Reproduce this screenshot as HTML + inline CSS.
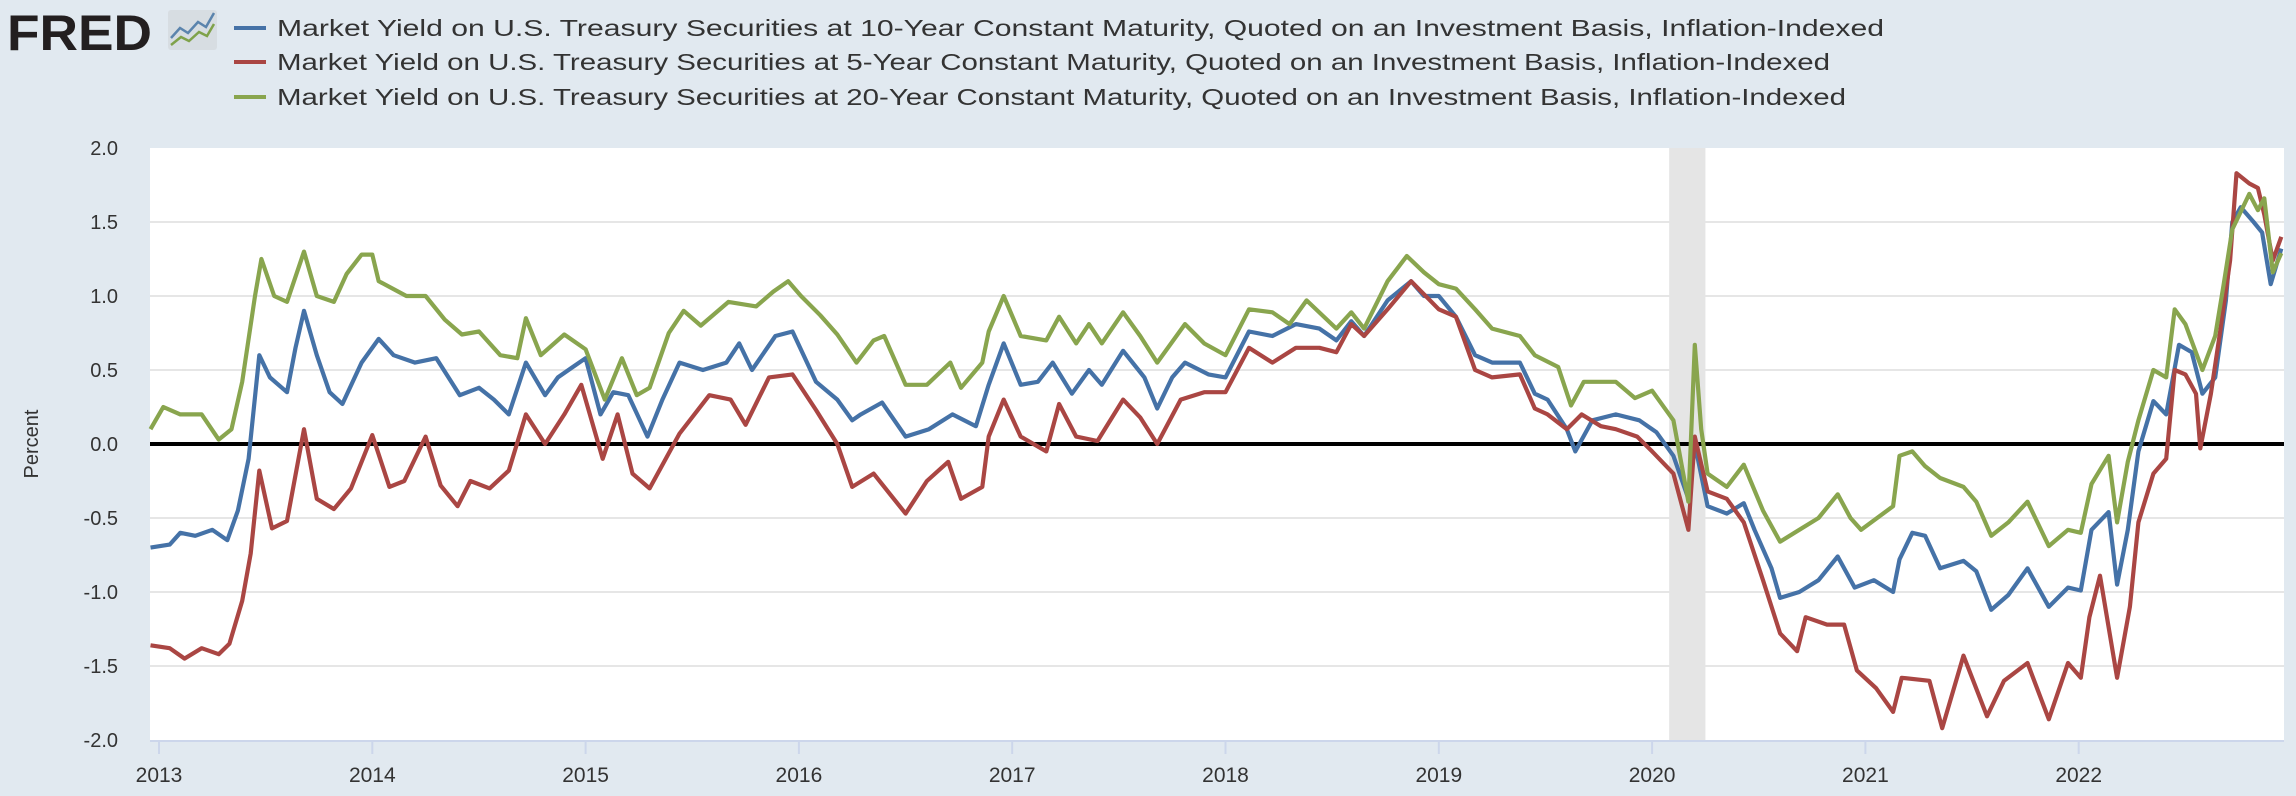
<!DOCTYPE html>
<html><head><meta charset="utf-8"><style>
html,body{margin:0;padding:0;background:#e1e9f0;}
svg{display:block;font-family:"Liberation Sans",sans-serif;}
</style></head><body>
<svg id="chart" width="2296" height="796" viewBox="0 0 2296 796">
<rect x="0" y="0" width="2296" height="796" fill="#e1e9f0"/>
<g>
<text x="7" y="50" font-size="50" font-weight="bold" fill="#231f20" textLength="145" lengthAdjust="spacingAndGlyphs">FRED</text>
<rect x="168" y="10" width="49" height="40" rx="3" fill="#d7dde2"/>
<polyline points="171,38 180,28 188,33 198,22 206,27 214,13" fill="none" stroke="#5b84ad" stroke-width="2.5"/>
<polyline points="171,45 181,37 189,41 199,32 207,36 214,24" fill="none" stroke="#7fa24a" stroke-width="2.5"/>
</g>
<g>
<g>
<line x1="234" y1="28" x2="266" y2="28" stroke="#4572a7" stroke-width="4"/>
<text x="277" y="36" font-size="23" fill="#333" textLength="1607" lengthAdjust="spacingAndGlyphs">Market Yield on U.S. Treasury Securities at 10-Year Constant Maturity, Quoted on an Investment Basis, Inflation-Indexed</text></g>
<g>
<line x1="234" y1="62" x2="266" y2="62" stroke="#aa4643" stroke-width="4"/>
<text x="277" y="70" font-size="23" fill="#333" textLength="1553" lengthAdjust="spacingAndGlyphs">Market Yield on U.S. Treasury Securities at 5-Year Constant Maturity, Quoted on an Investment Basis, Inflation-Indexed</text></g>
<g>
<line x1="234" y1="97" x2="266" y2="97" stroke="#89a54e" stroke-width="4"/>
<text x="277" y="105" font-size="23" fill="#333" textLength="1569" lengthAdjust="spacingAndGlyphs">Market Yield on U.S. Treasury Securities at 20-Year Constant Maturity, Quoted on an Investment Basis, Inflation-Indexed</text></g>
</g>
<rect x="150" y="148" width="2134" height="592" fill="#ffffff"/>
<text transform="translate(38,444) rotate(-90)" text-anchor="middle" font-size="20" fill="#333">Percent</text>
<g id="grid"></g><g id="rec"></g><g id="yl"></g><g id="xl"></g><g id="zero"></g><g id="series"></g>
</svg>
<script>
const yTicks=[-2.0,-1.5,-1.0,-0.5,0.0,0.5,1.0,1.5,2.0];
const xYears=[2013,2014,2015,2016,2017,2018,2019,2020,2021,2022];
const recession=[2020.08,2020.25];
const blueT=[2012.96,2013.05,2013.1,2013.17,2013.25,2013.32,2013.37,2013.42,2013.47,2013.52,2013.6,2013.64,2013.68,2013.74,2013.8,2013.86,2013.95,2014.03,2014.1,2014.2,2014.3,2014.41,2014.5,2014.57,2014.64,2014.72,2014.81,2014.87,2014.94,2015.0,2015.07,2015.13,2015.2,2015.29,2015.36,2015.44,2015.55,2015.66,2015.72,2015.78,2015.89,2015.97,2016.08,2016.18,2016.25,2016.29,2016.39,2016.5,2016.61,2016.72,2016.83,2016.89,2016.96,2017.04,2017.12,2017.19,2017.28,2017.36,2017.42,2017.52,2017.62,2017.68,2017.75,2017.81,2017.92,2018.0,2018.11,2018.22,2018.33,2018.44,2018.52,2018.59,2018.65,2018.76,2018.87,2018.93,2019.0,2019.08,2019.17,2019.25,2019.38,2019.45,2019.51,2019.6,2019.64,2019.72,2019.83,2019.94,2020.02,2020.1,2020.17,2020.2,2020.26,2020.35,2020.43,2020.48,2020.56,2020.6,2020.69,2020.78,2020.87,2020.95,2021.04,2021.13,2021.16,2021.22,2021.28,2021.35,2021.46,2021.52,2021.59,2021.67,2021.76,2021.86,2021.95,2022.01,2022.06,2022.14,2022.18,2022.23,2022.28,2022.35,2022.41,2022.47,2022.53,2022.58,2022.64,2022.69,2022.72,2022.76,2022.82,2022.86,2022.9,2022.95];
const blueV=[-0.7,-0.68,-0.6,-0.62,-0.58,-0.65,-0.45,-0.1,0.6,0.45,0.35,0.65,0.9,0.6,0.35,0.27,0.55,0.71,0.6,0.55,0.58,0.33,0.38,0.3,0.2,0.55,0.33,0.45,0.52,0.58,0.2,0.35,0.33,0.05,0.3,0.55,0.5,0.55,0.68,0.5,0.73,0.76,0.42,0.3,0.16,0.2,0.28,0.05,0.1,0.2,0.12,0.4,0.68,0.4,0.42,0.55,0.34,0.5,0.4,0.63,0.45,0.24,0.45,0.55,0.47,0.45,0.76,0.73,0.81,0.78,0.7,0.83,0.73,0.97,1.1,1.0,1.0,0.86,0.6,0.55,0.55,0.34,0.3,0.1,-0.05,0.16,0.2,0.16,0.08,-0.08,-0.37,0,-0.42,-0.47,-0.4,-0.58,-0.84,-1.04,-1.0,-0.92,-0.76,-0.97,-0.92,-1.0,-0.78,-0.6,-0.62,-0.84,-0.79,-0.86,-1.12,-1.02,-0.84,-1.1,-0.97,-0.99,-0.58,-0.46,-0.95,-0.58,-0.05,0.29,0.2,0.67,0.62,0.34,0.45,0.97,1.5,1.6,1.5,1.43,1.08,1.32];
const redT=[2012.96,2013.05,2013.12,2013.2,2013.28,2013.33,2013.39,2013.43,2013.47,2013.53,2013.6,2013.68,2013.74,2013.82,2013.9,2014.0,2014.08,2014.15,2014.25,2014.32,2014.4,2014.46,2014.55,2014.64,2014.72,2014.81,2014.9,2014.98,2015.08,2015.15,2015.22,2015.3,2015.44,2015.58,2015.68,2015.75,2015.86,2015.97,2016.08,2016.18,2016.25,2016.35,2016.5,2016.6,2016.7,2016.76,2016.86,2016.89,2016.96,2017.04,2017.16,2017.22,2017.3,2017.4,2017.52,2017.6,2017.68,2017.79,2017.9,2018.0,2018.11,2018.22,2018.33,2018.44,2018.52,2018.59,2018.65,2018.76,2018.87,2019.0,2019.08,2019.17,2019.25,2019.38,2019.45,2019.51,2019.6,2019.67,2019.76,2019.83,2019.93,2020.0,2020.1,2020.17,2020.2,2020.26,2020.35,2020.43,2020.52,2020.6,2020.68,2020.72,2020.82,2020.9,2020.96,2021.05,2021.13,2021.17,2021.3,2021.36,2021.46,2021.57,2021.65,2021.76,2021.86,2021.95,2022.01,2022.05,2022.1,2022.18,2022.24,2022.28,2022.35,2022.41,2022.45,2022.5,2022.55,2022.57,2022.62,2022.66,2022.71,2022.74,2022.8,2022.84,2022.87,2022.91,2022.95];
const redV=[-1.36,-1.38,-1.45,-1.38,-1.42,-1.35,-1.06,-0.74,-0.18,-0.57,-0.52,0.1,-0.37,-0.44,-0.3,0.06,-0.29,-0.25,0.05,-0.28,-0.42,-0.25,-0.3,-0.18,0.2,0.0,0.2,0.4,-0.1,0.2,-0.2,-0.3,0.07,0.33,0.3,0.13,0.45,0.47,0.23,0.0,-0.29,-0.2,-0.47,-0.25,-0.12,-0.37,-0.29,0.05,0.3,0.05,-0.05,0.27,0.05,0.02,0.3,0.18,0.0,0.3,0.35,0.35,0.65,0.55,0.65,0.65,0.62,0.81,0.73,0.91,1.1,0.91,0.86,0.5,0.45,0.47,0.24,0.2,0.1,0.2,0.12,0.1,0.05,-0.05,-0.2,-0.58,0.05,-0.32,-0.37,-0.53,-0.92,-1.28,-1.4,-1.17,-1.22,-1.22,-1.53,-1.65,-1.81,-1.58,-1.6,-1.92,-1.43,-1.84,-1.6,-1.48,-1.86,-1.48,-1.58,-1.17,-0.89,-1.58,-1.1,-0.53,-0.2,-0.1,0.5,0.47,0.34,-0.03,0.34,0.73,1.24,1.83,1.76,1.73,1.55,1.24,1.4];
const greenT=[2012.96,2013.02,2013.1,2013.2,2013.28,2013.34,2013.39,2013.45,2013.48,2013.54,2013.6,2013.68,2013.74,2013.82,2013.88,2013.95,2014.0,2014.03,2014.16,2014.25,2014.34,2014.42,2014.5,2014.6,2014.68,2014.72,2014.79,2014.9,2015.0,2015.09,2015.17,2015.24,2015.3,2015.39,2015.46,2015.54,2015.67,2015.8,2015.88,2015.95,2016.01,2016.1,2016.18,2016.27,2016.35,2016.4,2016.5,2016.6,2016.71,2016.76,2016.86,2016.89,2016.96,2017.04,2017.16,2017.22,2017.3,2017.36,2017.42,2017.52,2017.6,2017.68,2017.81,2017.9,2018.0,2018.11,2018.22,2018.3,2018.38,2018.52,2018.59,2018.65,2018.76,2018.85,2018.93,2019.0,2019.08,2019.17,2019.25,2019.38,2019.45,2019.56,2019.62,2019.68,2019.83,2019.92,2020.0,2020.1,2020.17,2020.2,2020.23,2020.26,2020.35,2020.43,2020.52,2020.6,2020.69,2020.78,2020.87,2020.93,2020.98,2021.13,2021.16,2021.22,2021.28,2021.35,2021.46,2021.52,2021.59,2021.67,2021.76,2021.86,2021.95,2022.01,2022.06,2022.14,2022.18,2022.23,2022.28,2022.35,2022.41,2022.45,2022.5,2022.58,2022.64,2022.68,2022.72,2022.8,2022.84,2022.87,2022.91,2022.95];
const greenV=[0.1,0.25,0.2,0.2,0.03,0.1,0.42,1.0,1.25,1.0,0.96,1.3,1.0,0.96,1.15,1.28,1.28,1.1,1.0,1.0,0.84,0.74,0.76,0.6,0.58,0.85,0.6,0.74,0.64,0.3,0.58,0.33,0.38,0.75,0.9,0.8,0.96,0.93,1.03,1.1,1.0,0.87,0.74,0.55,0.7,0.73,0.4,0.4,0.55,0.38,0.55,0.76,1.0,0.73,0.7,0.86,0.68,0.81,0.68,0.89,0.73,0.55,0.81,0.68,0.6,0.91,0.89,0.81,0.97,0.78,0.89,0.78,1.1,1.27,1.16,1.08,1.05,0.91,0.78,0.73,0.6,0.52,0.26,0.42,0.42,0.31,0.36,0.16,-0.39,0.67,0.1,-0.2,-0.29,-0.14,-0.45,-0.66,-0.58,-0.5,-0.34,-0.5,-0.58,-0.42,-0.08,-0.05,-0.15,-0.23,-0.29,-0.39,-0.62,-0.53,-0.39,-0.69,-0.58,-0.6,-0.27,-0.08,-0.53,-0.12,0.16,0.5,0.45,0.91,0.81,0.5,0.73,1.08,1.45,1.69,1.58,1.66,1.16,1.29];

const NS='http://www.w3.org/2000/svg';
const L=150,R=2284,T=148,B=740;
function xs(t){return Math.max(L,Math.min(R,159+(t-2013)*213.3));}
function ys(v){return 444-v*148;}
function mk(tag,attrs,parent){const e=document.createElementNS(NS,tag);for(const k in attrs)e.setAttribute(k,attrs[k]);document.getElementById(parent).appendChild(e);return e;}

yTicks.forEach(v=>{
  if(v!==2.0&&v!==-2.0){
    const g=mk('line',{x1:L,x2:R,y1:ys(v),y2:ys(v),stroke:'#e6e6e6','stroke-width':2},'grid');
    
    
  }
  const t=mk('text',{x:118,y:ys(v)+7,'text-anchor':'end','font-size':20,fill:'#333'},'yl');
  t.textContent=v.toFixed(1);
  
  
});
const rb=mk('rect',{x:xs(recession[0]),y:T,width:xs(recession[1])-xs(recession[0]),height:B-T,fill:'#e5e5e5'},'rec');


const ax=mk('line',{x1:L,x2:R,y1:B+1,y2:B+1,stroke:'#ccd6eb','stroke-width':2},'xl');


xYears.forEach(y=>{
  const tk=mk('line',{x1:xs(y),x2:xs(y),y1:B,y2:B+14,stroke:'#ccd6eb','stroke-width':2},'xl');
  
  
  const t=mk('text',{x:xs(y),y:782,'text-anchor':'middle','font-size':21,fill:'#333'},'xl');
  t.textContent=String(y);
  
  
});
const z=mk('line',{x1:L,x2:R,y1:ys(0),y2:ys(0),stroke:'#000','stroke-width':4},'zero');


function series(T_,V_,color,name){
  const pts=T_.map((t,i)=>xs(t).toFixed(1)+','+ys(V_[i]).toFixed(1)).join(' ');
  const p=mk('polyline',{points:pts,fill:'none',stroke:color,'stroke-width':4.2,'stroke-linejoin':'round'},'series');
  
  
}
series(blueT,blueV,'#4572a7','series-10-year');
series(redT,redV,'#aa4643','series-5-year');
series(greenT,greenV,'#89a54e','series-20-year');
</script>
</body></html>
